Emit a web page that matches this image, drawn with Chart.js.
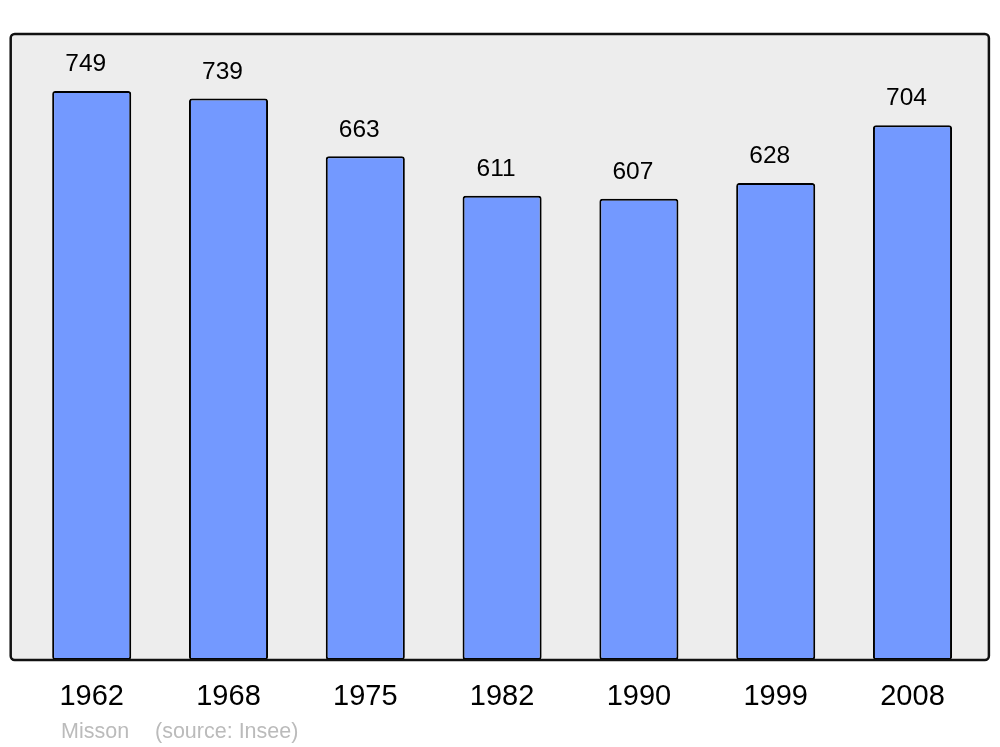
<!DOCTYPE html>
<html>
<head>
<meta charset="utf-8">
<script src="https://cdn.jsdelivr.net/npm/chart.js@4"></script>
<style>
html,body{margin:0;padding:0;background:#fff;}
#wrap{position:relative;width:1000px;height:747px;}
</style>
</head>
<body>
<div id="wrap"><canvas id="c" width="1000" height="747"></canvas></div>
<script>
const categories = ['1962','1968','1975','1982','1990','1999','2008'];
const population = [749, 739, 663, 611, 607, 628, 704];
const yMax = 824;
const commune = 'Misson';
const sourceText = '(source: Insee)';

const FONT = '"Liberation Sans", Arial, sans-serif';

const frame = {
  id: 'frame',
  beforeDatasetsDraw(chart) {
    const a = chart.chartArea, ctx = chart.ctx;
    const x0 = a.left - 12.6, x1 = a.right + 8, y0 = a.top, y1 = a.bottom;
    ctx.save();
    ctx.beginPath();
    ctx.roundRect(x0, y0, x1 - x0, y1 - y0, 4);
    ctx.fillStyle = '#ededed';
    ctx.fill();
    ctx.restore();
  },
  afterDatasetsDraw(chart) {
    const a = chart.chartArea, ctx = chart.ctx;
    const x0 = a.left - 12.6, x1 = a.right + 8, y0 = a.top, y1 = a.bottom;
    ctx.save();
    const meta = chart.getDatasetMeta(0);
    ctx.font = '24.5px ' + FONT;
    ctx.fillStyle = '#000';
    ctx.textAlign = 'center';
    ctx.textBaseline = 'middle';
    meta.data.forEach((bar, i) => {
      ctx.fillText(String(population[i]), bar.x - 6, bar.y - 26.5);
    });
    ctx.beginPath();
    ctx.roundRect(x0, y0, x1 - x0, y1 - y0, 4);
    ctx.lineWidth = 2.5;
    ctx.strokeStyle = '#111';
    ctx.stroke();
    ctx.font = '21.5px ' + FONT;
    ctx.fillStyle = '#bbbbbb';
    ctx.textAlign = 'left';
    ctx.textBaseline = 'alphabetic';
    ctx.fillText(commune, 61, 738);
    ctx.fillText(sourceText, 155, 738);
    ctx.restore();
  }
};

new Chart(document.getElementById('c'), {
  type: 'bar',
  data: {
    labels: categories,
    datasets: [{
      data: population,
      backgroundColor: '#7399ff',
      borderColor: '#000',
      borderWidth: 2,
      borderRadius: 3,
      borderSkipped: false,
      barPercentage: 0.578,
      categoryPercentage: 1
    }]
  },
  options: {
    responsive: false,
    animation: false,
    layout: { padding: { left: 23.3, right: 19.1, top: 34, bottom: 0 } },
    plugins: { legend: { display: false }, tooltip: { enabled: false } },
    scales: {
      x: {
        grid: { display: false, drawTicks: false },
        border: { display: false },
        ticks: { color: '#000', font: { size: 29, family: FONT }, padding: 20, maxRotation: 0 },
        afterFit(s) { s.height = 87; }
      },
      y: {
        display: false,
        min: 0,
        max: yMax
      }
    }
  },
  plugins: [frame]
});
</script>
</body>
</html>
